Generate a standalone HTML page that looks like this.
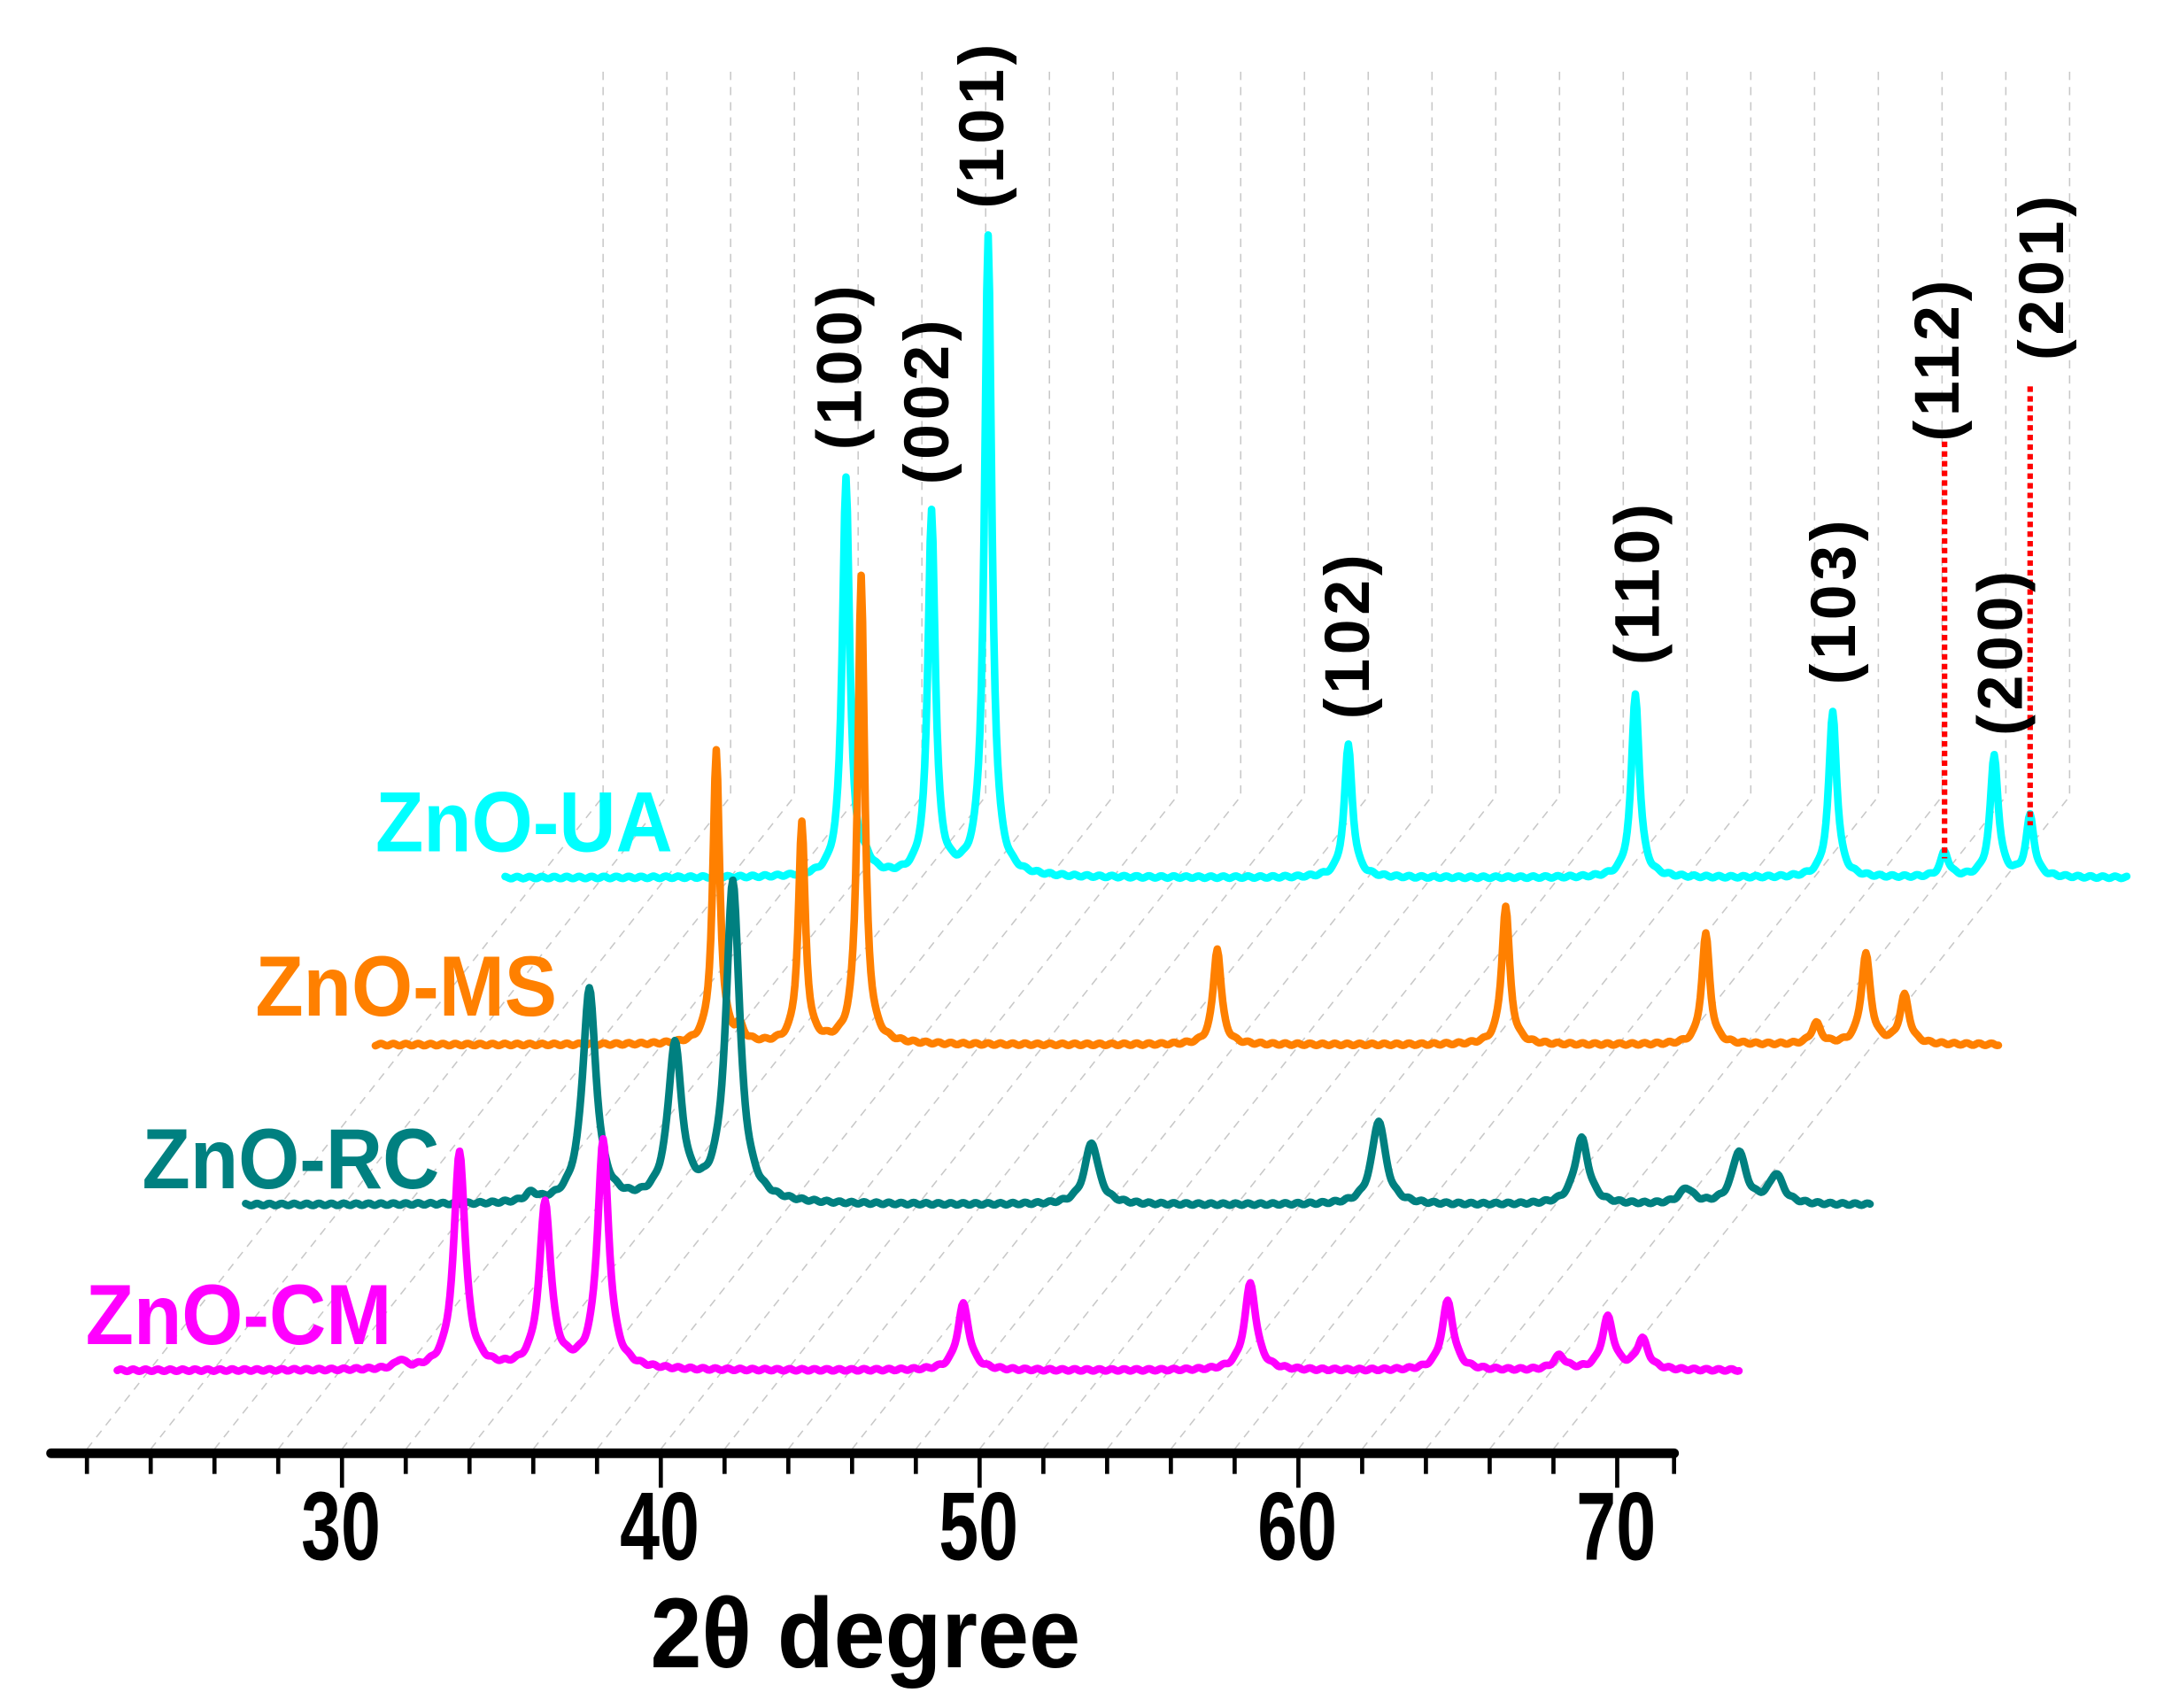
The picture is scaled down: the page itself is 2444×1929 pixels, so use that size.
<!DOCTYPE html>
<html><head><meta charset="utf-8"><style>
html,body{margin:0;padding:0;background:#fff;}
svg{display:block;}
text{font-family:"Liberation Sans",Arial,sans-serif;font-weight:bold;}
</style></head><body>
<svg id="s" width="2444" height="1929" viewBox="0 0 1568 1237.6" preserveAspectRatio="none" xmlns="http://www.w3.org/2000/svg">
<g id="grid" stroke="#c8c8c8" stroke-width="1" stroke-dasharray="6,5" fill="none"></g>
<g id="ticks" stroke="#000" stroke-width="3" fill="none"></g>
<line x1="37" y1="1053" x2="1213" y2="1053" stroke="#000" stroke-width="7" stroke-linecap="round"/>
<g id="traces" fill="none" stroke-width="5.5" stroke-linejoin="round" stroke-linecap="round"></g>
<line x1="1409" y1="320" x2="1409" y2="622" stroke="#ff0000" stroke-width="4" stroke-dasharray="4,3"/>
<line x1="1471" y1="280" x2="1471" y2="598" stroke="#ff0000" stroke-width="4" stroke-dasharray="4,3"/>
<g font-size="70" text-anchor="middle">
<text transform="translate(247,1130) scale(0.74,1)">30</text>
<text transform="translate(478,1130) scale(0.74,1)">40</text>
<text transform="translate(709,1130) scale(0.74,1)">50</text>
<text transform="translate(940,1130) scale(0.74,1)">60</text>
<text transform="translate(1171,1130) scale(0.74,1)">70</text>
</g>
<text transform="translate(627,1208) scale(0.93,1)" font-size="72" text-anchor="middle">2θ degree</text>
<g font-size="62">
<text transform="translate(272,617) scale(0.92,1)" fill="#00ffff">ZnO-UA</text>
<text transform="translate(185,736) scale(0.92,1)" fill="#ff8000">ZnO-MS</text>
<text transform="translate(103,861) scale(0.92,1)" fill="#008080">ZnO-RC</text>
<text transform="translate(62,974) scale(0.92,1)" fill="#ff00ff">ZnO-CM</text>
</g>
<g font-size="46" fill="#000" text-anchor="middle" letter-spacing="3">
<text transform="translate(624,265) rotate(-90)">(100)</text>
<text transform="translate(687,290) rotate(-90)">(002)</text>
<text transform="translate(727,90) rotate(-90)">(101)</text>
<text transform="translate(992,460) rotate(-90)">(102)</text>
<text transform="translate(1202,422) rotate(-90)">(110)</text>
<text transform="translate(1344,435) rotate(-90)">(103)</text>
<text transform="translate(1419,260) rotate(-90)">(112)</text>
<text transform="translate(1465,472) rotate(-90)">(200)</text>
<text transform="translate(1495,200) rotate(-90)">(201)</text>
</g>
</svg>
<script>
(function(){
var NS="http://www.w3.org/2000/svg";
function el(p,t,a){var e=document.createElementNS(NS,t);for(var k in a)e.setAttribute(k,a[k]);document.getElementById(p).appendChild(e);}
for(var i=0;i<26;i++){
  var tx=63+i*46.2;
  if(i<24) el("grid","path",{d:"M"+tx+" 1050 L"+(tx+374)+" 577 L"+(tx+374)+" 50"});
  var major=(Math.abs(((tx-247)/231)-Math.round((tx-247)/231))<0.02);
  if(tx<1214) el("ticks","line",{x1:tx,y1:1053,x2:tx,y2:major?1078:1068});
}
el("ticks","line",{x1:1213,y1:1053,x2:1213,y2:1068});
function trace(col,x0,x1,base,peaks){
  var d="";
  for(var x=x0;x<=x1;x+=1){
    var y=base;
    for(var j=0;j<peaks.length;j++){var p=peaks[j];var u=(x-p[0])/p[2];y-=p[1]/(1+u*u);}
    y+=Math.sin(x*0.7)*0.8;
    d+=(x==x0?"M":"L")+x+" "+y.toFixed(1)+" ";
  }
  el("traces","path",{d:d,stroke:col});
}
trace("#00ffff",366,1541,636,[[613,289,3.2],[675,264,3.2],[716,463,3.2],[977,96,3.5],[1185,133,3.5],[1328,120,3.5],[1409,18,3.5],[1445,88,3.5],[1471,44,3.5],[627,8,5]]);
trace("#ff8000",272,1448,757,[[519,212,3],[581,159,3],[624,339,3],[882,70,3.5],[1091,100,3.5],[1236,80,3.5],[1316,15,4],[1352,65,4],[1380,35,4],[536,10,3]]);
trace("#008080",178,1355,873,[[427,155,6],[489,113,6],[531,233,6],[791,45,6],[999,61,6],[1146,48,6],[1222,11,6],[1260,38,6],[1287,21,6],[385,6,5]]);
trace("#ff00ff",85,1260,993,[[333,158,5],[395,120,5],[437,165,5],[698,48,5],[906,63,5],[1049,50,5],[1130,10,5],[1165,38,5],[1190,22,5],[290,6,4]]);
})();
</script>
</body></html>
